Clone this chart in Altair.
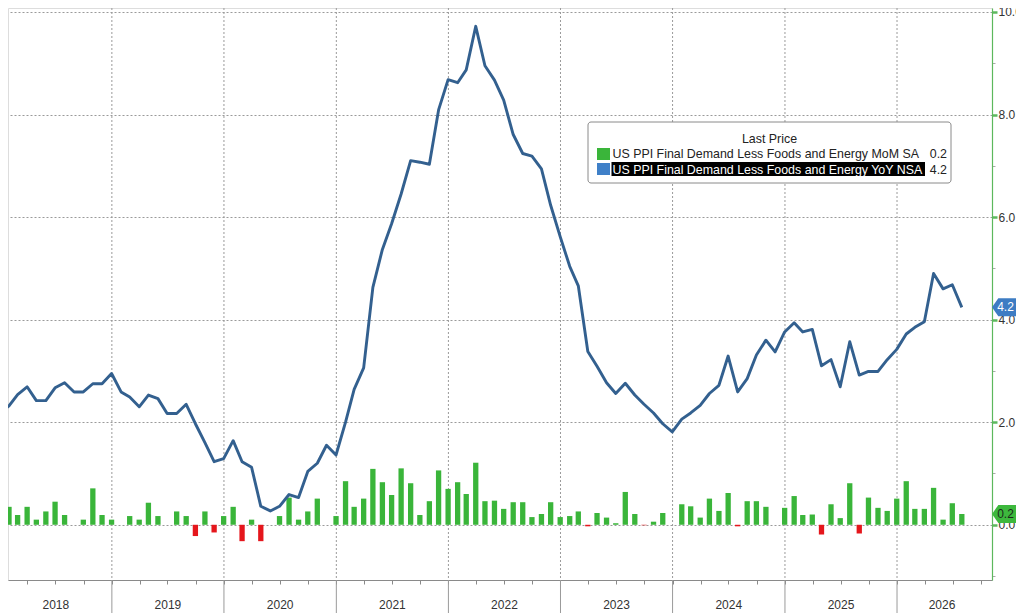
import altair as alt
import pandas as pd

# ---------------- data ----------------
yoy_first_month = "2017-12-01"
yoy = [2.16,
       2.32, 2.54, 2.69, 2.42, 2.42, 2.67, 2.77, 2.59, 2.59, 2.75, 2.75, 2.95,
       2.59, 2.49, 2.30, 2.53, 2.46, 2.17, 2.17, 2.35, 1.97, 1.60, 1.23, 1.29,
       1.64, 1.23, 1.12, 0.36, 0.27, 0.36, 0.59, 0.53, 1.04, 1.20, 1.55, 1.36,
       2.00, 2.64, 3.06, 4.63, 5.37, 5.87, 6.45, 7.10, 7.07, 7.03, 8.09, 8.68,
       8.62, 8.87, 9.72, 8.95, 8.67, 8.28, 7.61, 7.24, 7.19, 6.94, 6.23, 5.62,
       5.04, 4.66, 3.38, 3.09, 2.77, 2.56, 2.76, 2.53, 2.35, 2.18, 1.97, 1.81,
       2.06, 2.18, 2.33, 2.56, 2.72, 3.29, 2.59, 2.85, 3.31, 3.60, 3.37, 3.76,
       3.94, 3.76, 3.81, 3.10, 3.22, 2.69, 3.57, 2.92, 2.99, 2.99, 3.22, 3.42,
       3.72, 3.85, 3.96, 4.90, 4.60, 4.68, 4.24]

mom_first_month = "2018-01-01"
mom = [0.35, 0.19, 0.35, 0.10, 0.26, 0.45, 0.19, 0.00, 0.10, 0.71, 0.19, 0.10,
       0.00, 0.17, 0.10, 0.43, 0.17, 0.00, 0.26, 0.17, -0.22, 0.26, -0.15, 0.17,
       0.35, -0.32, 0.10, -0.32, 0.00, 0.17, 0.53, 0.10, 0.26, 0.51, 0.00, 0.17,
       0.85, 0.35, 0.51, 1.09, 0.83, 0.58, 1.10, 0.81, 0.19, 0.46, 1.06, 0.70,
       0.83, 0.60, 1.21, 0.46, 0.47, 0.31, 0.44, 0.44, 0.15, 0.21, 0.44, 0.15,
       0.17, 0.26, -0.03, 0.23, 0.14, 0.03, 0.64, 0.21, -0.01, 0.06, 0.23, 0.00,
       0.40, 0.36, 0.14, 0.51, 0.27, 0.62, -0.03, 0.46, 0.46, 0.35, 0.00, 0.33,
       0.56, 0.19, 0.20, -0.19, 0.40, 0.13, 0.81, -0.17, 0.53, 0.33, 0.27, 0.51,
       0.85, 0.31, 0.31, 0.72, 0.10, 0.42, 0.21]

years = list(range(2018, 2027))
legend_title = "Last Price"
series_names = ["US PPI Final Demand Less Foods and Energy MoM SA",
                "US PPI Final Demand Less Foods and Energy YoY NSA"]

# ---------------- styling ----------------
GREEN = "#3ab53a"
RED = "#e5161c"
LINE = "#33608f"
BLUE_TAG = "#3d7cc3"
GREEN_TAG = "#3db83d"
AXIS_GREEN = "#5cb85c"
GRID = "#9a9a9a"
FONT = "Liberation Sans"
LEG_FS = 12.4

W, H = 984, 572
PAD = {"left": 0, "top": 0, "right": 24, "bottom": 33}

dom_start = pd.Timestamp("2018-02-13")
dom_end = pd.Timestamp("2026-10-21")

# ---------------- tables ----------------
line_df = pd.DataFrame({
    "date": pd.date_range(yoy_first_month, periods=len(yoy), freq="MS") + pd.offsets.MonthEnd(1),
    "yoy": yoy,
})
bar_df = pd.DataFrame({
    "date": pd.date_range(mom_first_month, periods=len(mom), freq="MS") + pd.offsets.MonthEnd(1),
    "mom": mom,
})

year_bounds = pd.DataFrame({"d": [pd.Timestamp(f"{y}-01-01") for y in years[1:]]})
mids = []
for y in years:
    a = pd.Timestamp(f"{y}-01-01")
    b = min(pd.Timestamp(f"{y + 1}-01-01"), dom_end)
    mids.append(a + (b - a) / 2)
year_lab = pd.DataFrame({"mid": mids, "label": [str(y) for y in years]})

one = pd.DataFrame({"k": [0]})

# ---------------- scales / axes ----------------
X_SCALE = alt.Scale(domain=[alt.DateTime(year=2018, month=2, date=13),
                            alt.DateTime(year=2026, month=10, date=21)], nice=False)
quarter_vals = [alt.DateTime(year=y, month=m, date=1)
                for y in years for m in (1, 4, 7, 10)
                if dom_start <= pd.Timestamp(year=y, month=m, day=1) <= dom_end]
X_AXIS = alt.Axis(title=None, values=quarter_vals, labels=False, ticks=True,
                  tickSize=4, tickColor="#8a8a8a", domainColor="#8a8a8a",
                  domainWidth=1, grid=False)

even = "datum.value % 2 === 0"
Y_SCALE = alt.Scale(domain=[-1.077, 10.077], nice=False, zero=False)
Y_AXIS = alt.Axis(
    title=None, orient="right", values=list(range(-1, 11)),
    labelExpr="datum.value % 2 === 0 ? format(datum.value, '.1f') : ''",
    labelOverlap=False, labelFontSize=12, labelColor="#333333", labelFont=FONT,
    labelPadding=1,
    grid=True, gridDash=[2, 2], gridColor=GRID, gridWidth=1,
    gridOpacity={"condition": {"test": even, "value": 1}, "value": 0},
    domainColor=AXIS_GREEN, domainWidth=1.2,
    tickColor={"condition": {"test": even, "value": AXIS_GREEN}, "value": "#aaaaaa"},
    tickSize={"condition": {"test": even, "value": 5}, "value": 3},
    tickWidth={"condition": {"test": even, "value": 2.5}, "value": 1},
)


def xenc(field):
    return alt.X(field, scale=X_SCALE, axis=X_AXIS)


def yenc(field):
    return alt.Y(field, scale=Y_SCALE, axis=Y_AXIS)


# ---------------- layers ----------------
vgrid = alt.Chart(year_bounds).mark_rule(color=GRID, strokeDash=[2, 2], strokeWidth=1).encode(
    x=xenc("d:T"))

separators = alt.Chart(year_bounds).mark_rule(color="#9a9a9a", strokeWidth=1).encode(
    x=xenc("d:T"), y=alt.value(H), y2=alt.value(H + 33))

year_text = alt.Chart(year_lab).mark_text(fontSize=12, color="#333333", font=FONT,
                                          baseline="middle", align="center").encode(
    x=xenc("mid:T"), y=alt.value(H + 25), text="label:N")

bars = alt.Chart(bar_df).mark_bar(size=5.3, clip=True).encode(
    x=xenc("date:T"),
    y=yenc("mom:Q"),
    y2=alt.datum(0),
    color=alt.condition("datum.mom >= 0", alt.value(GREEN), alt.value(RED)),
)

line = alt.Chart(line_df).mark_line(color=LINE, strokeWidth=2.9, clip=True,
                                    strokeJoin="round").encode(
    x=xenc("date:T"), y=yenc("yoy:Q"))

TAG_PATH = "M-1,0 L-0.55,-0.64 L1.2,-0.64 L1.2,0.64 L-0.55,0.64 Z"
last_yoy = pd.DataFrame({"v": [yoy[-1]]})
last_mom = pd.DataFrame({"v": [mom[-1]]})

tag_blue = alt.Chart(last_yoy).mark_point(shape=TAG_PATH, size=784, filled=True,
                                          color=BLUE_TAG, opacity=1, strokeWidth=0).encode(
    x=alt.value(W + 14), y=yenc("v:Q"))
tag_blue_t = alt.Chart(last_yoy).mark_text(color="white", fontSize=12, font=FONT,
                                           align="center", baseline="middle").encode(
    x=alt.value(W + 13.5), y=yenc("v:Q"), text=alt.Text("v:Q", format=".1f"))
tag_green = alt.Chart(last_mom).mark_point(shape=TAG_PATH, size=784, filled=True,
                                           color=GREEN_TAG, opacity=1, strokeWidth=0).encode(
    x=alt.value(W + 14), y=yenc("v:Q"))
tag_green_t = alt.Chart(last_mom).mark_text(color="#1c2a1c", fontSize=12, font=FONT,
                                            align="center", baseline="middle").encode(
    x=alt.value(W + 13.5), y=yenc("v:Q"), text=alt.Text("v:Q", format=".1f"))

# legend box
LX0, LX1, LY0, LY1 = 580, 943, 114, 175
leg_box = alt.Chart(one).mark_rect(fill="white", stroke="#8a8a8a", strokeWidth=1,
                                   cornerRadius=3).encode(
    x=alt.value(LX0), x2=alt.value(LX1), y=alt.value(LY0), y2=alt.value(LY1))
leg_title = alt.Chart(one).mark_text(text=legend_title, fontSize=LEG_FS, font=FONT,
                                     color="#222222", align="center", baseline="middle").encode(
    x=alt.value((LX0 + LX1) / 2), y=alt.value(131))
sq1 = alt.Chart(one).mark_rect(fill=GREEN).encode(
    x=alt.value(589), x2=alt.value(602), y=alt.value(140), y2=alt.value(152))
sq2 = alt.Chart(one).mark_rect(fill="#3f80c8").encode(
    x=alt.value(589), x2=alt.value(602), y=alt.value(155), y2=alt.value(167))
hl = alt.Chart(one).mark_rect(fill="black").encode(
    x=alt.value(603.5), x2=alt.value(917), y=alt.value(154), y2=alt.value(168))
t1 = alt.Chart(one).mark_text(text=series_names[0], fontSize=LEG_FS, font=FONT, color="#222222",
                              align="left", baseline="middle").encode(
    x=alt.value(604.5), y=alt.value(146))
t2 = alt.Chart(one).mark_text(text=series_names[1], fontSize=LEG_FS, font=FONT, color="white",
                              align="left", baseline="middle").encode(
    x=alt.value(604.5), y=alt.value(161.5))
v1 = alt.Chart(one).mark_text(text=f"{mom[-1]:.1f}", fontSize=LEG_FS, font=FONT, color="#222222",
                              align="right", baseline="middle").encode(
    x=alt.value(939), y=alt.value(146))
v2 = alt.Chart(one).mark_text(text=f"{yoy[-1]:.1f}", fontSize=LEG_FS, font=FONT, color="#222222",
                              align="right", baseline="middle").encode(
    x=alt.value(939), y=alt.value(161.5))

chart = alt.layer(
    vgrid, separators, year_text, bars, line,
    tag_green, tag_green_t, tag_blue, tag_blue_t,
    leg_box, leg_title, sq1, sq2, hl, t1, t2, v1, v2,
).properties(
    width=W, height=H,
    autosize=alt.AutoSizeParams(type="none"),
    padding=PAD,
    background="white",
).configure_view(stroke=None).configure(font=FONT)

chart.save("out.html", embed_options={"renderer": "svg", "actions": False})
